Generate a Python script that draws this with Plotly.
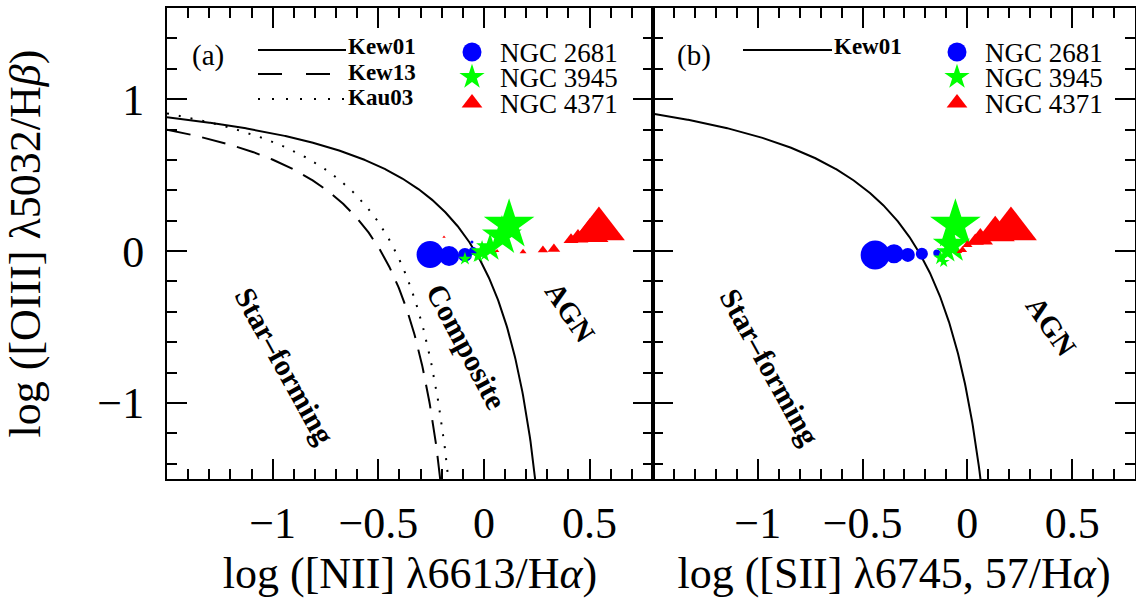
import numpy as np
import plotly.graph_objects as go

W, H = 1136, 603

# ---------------- data ----------------
# Panel (a): log([NII]/Ha) vs log([OIII]/Hb)
n2681_a_x = [-0.255, -0.165, -0.090, -0.052, -0.057]
n2681_a_y = [-0.022, -0.032, -0.025, 0.001, 0.060]
n2681_a_msize = [27, 20, 14, 8, 3]

n3945_a_x = [0.119, 0.085, 0.029, -0.009, -0.028, -0.090]
n3945_a_y = [0.172, 0.100, 0.021, -0.005, -0.030, -0.051]
n3945_a_msize = [38, 30, 21, 17, 11, 10]

n4371_a_x = [0.544, 0.502, 0.445, 0.412, 0.331, 0.279, 0.185, 0.062, -0.189]
n4371_a_y = [0.146, 0.113, 0.087, 0.074, 0.014, 0.008, -0.005, 0.001, 0.093]
n4371_a_msize = [45, 32, 18, 13, 11, 9, 6, 4, 3]

# Panel (b): log([SII]/Ha) vs log([OIII]/Hb)
n2681_b_x = [-0.440, -0.350, -0.284, -0.217, -0.146, -0.066]
n2681_b_y = [-0.025, -0.018, -0.025, -0.018, -0.012, 0.008]
n2681_b_msize = [29, 19, 14, 12, 7, 4]

n3945_b_x = [-0.057, -0.076, -0.094, -0.128, -0.113]
n3945_b_y = [0.172, 0.041, -0.005, -0.045, -0.071]
n3945_b_msize = [38, 28, 17, 11, 9]

n4371_b_x = [0.208, 0.133, 0.062, 0.038, 0.000, -0.023, -0.038]
n4371_b_y = [0.146, 0.120, 0.080, 0.067, 0.041, 0.008, -0.005]
n4371_b_msize = [45, 34, 22, 15, 9, 8, 5]

# demarcation curves  y = a / (x - x0) + b
kew01_nii = (0.61, 0.47, 1.19)
kew13_nii = (0.61, 0.02, 1.20)
kau03_nii = (0.61, 0.05, 1.30)
kew01_sii = (0.72, 0.32, 1.30)

x_major = [-1, -0.5, 0, 0.5]
x_major_text = ["\u22121", "\u22120.5", "0", "0.5"]
x_minor = [-1.4, -1.3, -1.2, -1.1, -0.9, -0.8, -0.7, -0.6, -0.4, -0.3, -0.2, -0.1,
           0.1, 0.2, 0.3, 0.4, 0.6, 0.7]
y_major = [-1, 0, 1]
y_major_text = ["\u22121", "0", "1"]
y_minor = [-1.4, -1.2, -0.8, -0.6, -0.4, -0.2, 0.2, 0.4, 0.6, 0.8, 1.2, 1.4]

galaxies = ["NGC 2681", "NGC 3945", "NGC 4371"]
region_labels_a = ["Star\u2013forming", "Composite", "AGN"]
region_labels_b = ["Star\u2013forming", "AGN"]

XR = [-1.5, 0.8]
YR = [-1.5, 1.6]

# ---------------- layout helpers ----------------
def px(xp):
    return xp / W

def py(yp):
    return 1 - yp / H

SERIF = "Liberation Serif"
BLUE, GREEN, RED = "#0000ff", "#00ff00", "#ff0000"


def curve(coef, lo=-1.5, ylow=-1.7):
    a, x0, b = coef
    xend = x0 + a / (ylow - b)
    xs = np.linspace(lo, xend, 500)
    return xs, a / (xs - x0) + b


fig = go.Figure()

for coef, dash in [(kew01_nii, "solid"), (kew13_nii, "24px,12px"), (kau03_nii, "2px,10px")]:
    xs, ys = curve(coef)
    fig.add_trace(go.Scatter(x=xs, y=ys, mode="lines", line=dict(color="black", width=2, dash=dash),
                             xaxis="x", yaxis="y", showlegend=False, hoverinfo="skip"))
xs, ys = curve(kew01_sii)
fig.add_trace(go.Scatter(x=xs, y=ys, mode="lines", line=dict(color="black", width=2),
                         xaxis="x2", yaxis="y2", showlegend=False, hoverinfo="skip"))

sets = [
    ("x", "y", n2681_a_x, n2681_a_y, n2681_a_msize, "circle", BLUE),
    ("x", "y", n3945_a_x, n3945_a_y, n3945_a_msize, "star", GREEN),
    ("x", "y", n4371_a_x, n4371_a_y, n4371_a_msize, "triangle-up", RED),
    ("x2", "y2", n2681_b_x, n2681_b_y, n2681_b_msize, "circle", BLUE),
    ("x2", "y2", n3945_b_x, n3945_b_y, n3945_b_msize, "star", GREEN),
    ("x2", "y2", n4371_b_x, n4371_b_y, n4371_b_msize, "triangle-up", RED),
]
for xa, ya, xv, yv, sv, sym, col in sets:
    fig.add_trace(go.Scatter(x=xv, y=yv, mode="markers", xaxis=xa, yaxis=ya, showlegend=False,
                             marker=dict(symbol=sym, size=sv, color=col, opacity=1, line=dict(width=0))))

# empty traces so the minor-tick overlay axes exist
for xa, ya in [("x4", "y"), ("x", "y4"), ("x5", "y2"), ("x2", "y5")]:
    fig.add_trace(go.Scatter(x=[], y=[], xaxis=xa, yaxis=ya, showlegend=False, hoverinfo="skip"))

# legend symbols on an overlay pixel axis
leg_sym_x = [472, 957]
leg_sym_y = [52, 77, 103]
for lx in leg_sym_x:
    for yy, sym, col, sz in zip(leg_sym_y, ["circle", "star", "triangle-up"], [BLUE, GREEN, RED], [19, 19, 18]):
        fig.add_trace(go.Scatter(x=[lx], y=[yy], mode="markers", xaxis="x3", yaxis="y3", showlegend=False,
                                 marker=dict(symbol=sym, size=sz, color=col, opacity=1, line=dict(width=0)),
                                 hoverinfo="skip"))

TICKFS = 44
major_common = dict(showline=True, linewidth=2, linecolor="black", mirror="ticks",
                    ticks="inside", ticklen=20, tickwidth=2, tickcolor="black",
                    showgrid=False, zeroline=False, automargin=False,
                    tickfont=dict(family=SERIF, size=TICKFS, color="black"))
minor_common = dict(showline=False, mirror="ticks", ticks="inside", ticklen=10, tickwidth=2,
                    tickcolor="black", showgrid=False, zeroline=False, showticklabels=False,
                    automargin=False, tickmode="array")
title_font = dict(family=SERIF, size=44, color="black")

xa0, xa1, xb1 = px(167), px(653), px(1135)
yd = [py(479), py(8)]

fig.update_layout(
    width=W, height=H, margin=dict(l=0, r=0, t=0, b=0, autoexpand=False),
    paper_bgcolor="white", plot_bgcolor="rgba(0,0,0,0)", showlegend=False,
    xaxis=dict(major_common, domain=[xa0, xa1], range=XR, anchor="y",
               tickmode="array", tickvals=x_major, ticktext=x_major_text, ticklabelstandoff=4,
               title=dict(text="log ([NII] \u03bb6613/H<i>\u03b1</i>)", font=title_font, standoff=10)),
    yaxis=dict(major_common, domain=yd, range=YR, anchor="x",
               tickmode="array", tickvals=y_major, ticktext=y_major_text, ticklabelstandoff=12,
               title=dict(text="log ([OIII] \u03bb5032/H<i>\u03b2</i>)", font=title_font, standoff=43)),
    xaxis2=dict(major_common, domain=[xa1, xb1], range=XR, anchor="y2",
                tickmode="array", tickvals=x_major, ticktext=x_major_text, ticklabelstandoff=4,
                title=dict(text="log ([SII] \u03bb6745, 57/H<i>\u03b1</i>)", font=title_font, standoff=10)),
    yaxis2=dict(major_common, domain=yd, range=YR, anchor="x2", showticklabels=False,
                tickmode="array", tickvals=y_major),
    xaxis4=dict(minor_common, overlaying="x", anchor="y", range=XR, tickvals=x_minor),
    yaxis4=dict(minor_common, overlaying="y", anchor="x", range=YR, tickvals=y_minor),
    xaxis5=dict(minor_common, overlaying="x2", anchor="y2", range=XR, tickvals=x_minor),
    yaxis5=dict(minor_common, overlaying="y2", anchor="x2", range=YR, tickvals=y_minor),
    xaxis3=dict(domain=[0, 1], range=[0, W], anchor="y3", visible=False, fixedrange=True),
    yaxis3=dict(domain=[0, 1], range=[H, 0], anchor="x3", visible=False, fixedrange=True),
)

ann = []
shapes = []

def text(x, y, s, size, anchor="left", angle=0, bold=False):
    ann.append(dict(x=px(x), y=py(y), xref="paper", yref="paper", text=("<b>%s</b>" % s) if bold else s,
                    showarrow=False, xanchor=anchor, yanchor="middle", textangle=angle,
                    font=dict(family=SERIF, size=size, color="black")))

text(190, 55, "(a)", 29)
text(675, 55, "(b)", 29)

leg_lines_a = [("Kew01", "solid", 50, 47), ("Kew13", "24px,24px", 74, 72), ("Kau03", "2px,12px", 99, 97)]
for lab, dash, ly, ty in leg_lines_a:
    shapes.append(dict(type="line", xref="paper", yref="paper", x0=px(258), x1=px(346), y0=py(ly), y1=py(ly),
                       line=dict(color="black", width=2, dash=dash)))
    text(346, ty, lab, 23, bold=True)
shapes.append(dict(type="line", xref="paper", yref="paper", x0=px(743), x1=px(832), y0=py(50), y1=py(50),
                   line=dict(color="black", width=2)))
text(832, 47, "Kew01", 23, bold=True)

for lx in [498, 983]:
    for yy, g in zip([53, 78, 104], galaxies):
        text(lx, yy, g, 27)

text(285, 365, region_labels_a[0], 30, anchor="center", angle=61, bold=True)
text(467, 346, region_labels_a[1], 30, anchor="center", angle=62, bold=True)
text(570, 312, region_labels_a[2], 29, anchor="center", angle=56, bold=True)
text(770, 366, region_labels_b[0], 30, anchor="center", angle=61, bold=True)
text(1051, 326, region_labels_b[1], 29, anchor="center", angle=55, bold=True)

fig.update_layout(annotations=ann, shapes=shapes)

fig.write_html("out.html")
